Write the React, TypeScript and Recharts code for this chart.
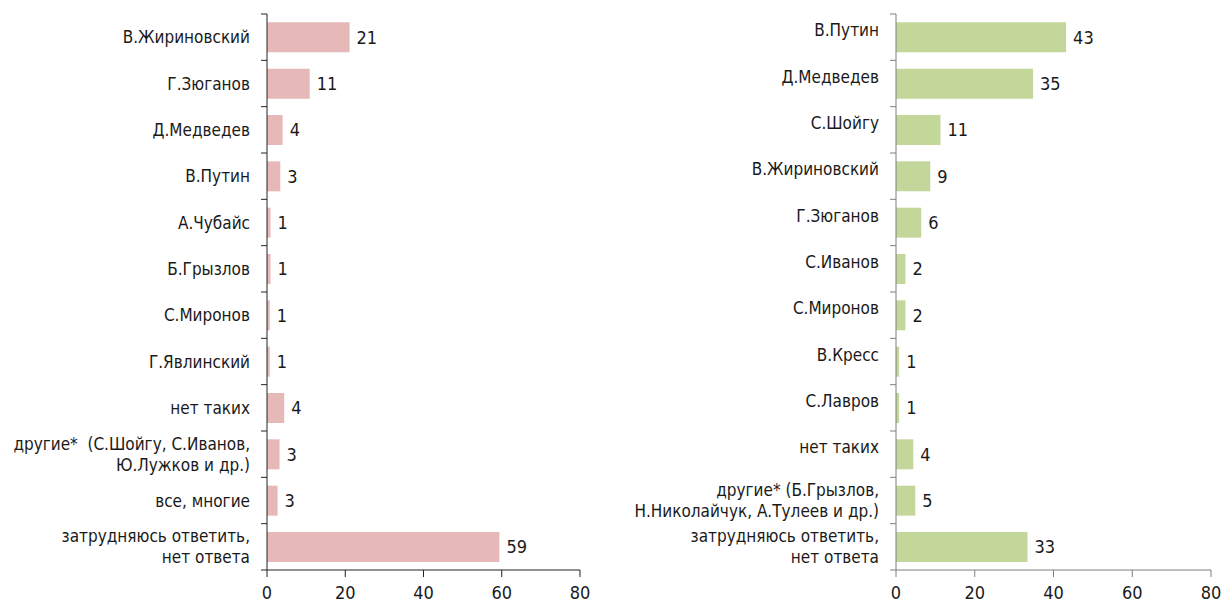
import React from "react";
import { BarChart, Bar, XAxis, YAxis, LabelList } from "recharts";

const FONT = "'Liberation Sans Narrow', 'DejaVu Sans Condensed', 'Noto Sans', sans-serif";

const leftCategories = [
  "В.Жириновский",
  "Г.Зюганов",
  "Д.Медведев",
  "В.Путин",
  "А.Чубайс",
  "Б.Грызлов",
  "С.Миронов",
  "Г.Явлинский",
  "нет таких",
  "другие*  (С.Шойгу, С.Иванов,\nЮ.Лужков и др.)",
  "все, многие",
  "затрудняюсь ответить,\nнет ответа",
];
const leftValues = [21.1, 10.9, 4.0, 3.4, 0.9, 0.9, 0.7, 0.7, 4.4, 3.2, 2.7, 59.4];

const rightCategories = [
  "В.Путин",
  "Д.Медведев",
  "С.Шойгу",
  "В.Жириновский",
  "Г.Зюганов",
  "С.Иванов",
  "С.Миронов",
  "В.Кресс",
  "С.Лавров",
  "нет таких",
  "другие* (Б.Грызлов,\nН.Николайчук, А.Тулеев и др.)",
  "затрудняюсь ответить,\nнет ответа",
];
const rightValues = [43.2, 34.8, 11.3, 8.7, 6.4, 2.4, 2.4, 0.8, 0.8, 4.4, 4.9, 33.4];

const xTicks = [0, 20, 40, 60, 80];

const CHART_H = 605;
const TOP = 14;
const PLOT_BOTTOM = 570;

function makeTick(axisX: number, count: number, lift: number, axisColor: string) {
  const band = (PLOT_BOTTOM - TOP) / count;
  return (props: any) => {
    const { y, payload, index } = props;
    const lines = String(payload.value).split("\n");
    const lh = 21;
    const dyStart = lines.length > 1 ? -((lines.length - 1) * lh) / 2 : lift;
    return (
      <g>
        <line x1={axisX - 6} x2={axisX} y1={y - band / 2} y2={y - band / 2} stroke={axisColor} />
        {index === count - 1 && (
          <line x1={axisX - 6} x2={axisX} y1={y + band / 2} y2={y + band / 2} stroke={axisColor} />
        )}
        <text
          x={axisX - 17}
          y={y}
          textAnchor="end"
          fill="#1a1a1a"
          fontSize={17}
          fontFamily={FONT}
          style={{ whiteSpace: "pre" }}
        >
          {lines.map((l, i) => (
            <tspan key={i} x={axisX - 17} dy={i === 0 ? dyStart + 6 : lh}>
              {l}
            </tspan>
          ))}
        </text>
      </g>
    );
  };
}

function Panel({
  cats,
  values,
  color,
  width,
  yWidth,
  right,
  axisColor,
  lift,
}: {
  cats: string[];
  values: number[];
  color: string;
  width: number;
  yWidth: number;
  right: number;
  axisColor: string;
  lift: number;
}) {
  const data = cats.map((c, i) => ({ name: c, v: values[i] }));
  return (
    <BarChart
      width={width}
      height={CHART_H}
      data={data}
      layout="vertical"
      margin={{ top: TOP, right, bottom: 5, left: 0 }}
      barCategoryGap="18%"
    >
      <XAxis
        type="number"
        domain={[0, 80]}
        ticks={xTicks}
        height={CHART_H - PLOT_BOTTOM - 5}
        axisLine={{ stroke: axisColor }}
        tickLine={{ stroke: axisColor }}
        tickSize={7}
        tickMargin={9}
        tick={{ fill: "#1a1a1a", fontSize: 18, fontFamily: FONT }}
      />
      <YAxis
        type="category"
        dataKey="name"
        width={yWidth}
        axisLine={{ stroke: axisColor }}
        tickLine={false}
        interval={0}
        tick={makeTick(yWidth, cats.length, lift, axisColor)}
      />
      <Bar dataKey="v" fill={color} isAnimationActive={false}>
        <LabelList
          dataKey="v"
          position="right"
          offset={7}
          formatter={(v: any) => Math.round(Number(v))}
          style={{ fill: "#1a1a1a", fontSize: 18, fontFamily: FONT }}
        />
      </Bar>
    </BarChart>
  );
}

export default function App() {
  return (
    <div style={{ position: "absolute", left: 0, top: 0, width: 1222, height: 605, background: "#fff" }}>
      <style>{`.recharts-surface { overflow: visible; }`}</style>
      <div style={{ position: "absolute", left: 0, top: 0 }}>
        <Panel
          cats={leftCategories}
          values={leftValues}
          color="#e6b8b7"
          width={610}
          yWidth={267}
          right={30}
          axisColor="#222"
          lift={0}
        />
      </div>
      <div style={{ position: "absolute", left: 620, top: 0 }}>
        <Panel
          cats={rightCategories}
          values={rightValues}
          color="#c4d79b"
          width={602}
          yWidth={276}
          right={11}
          axisColor="#7f7f7f"
          lift={-7}
        />
      </div>
    </div>
  );
}
